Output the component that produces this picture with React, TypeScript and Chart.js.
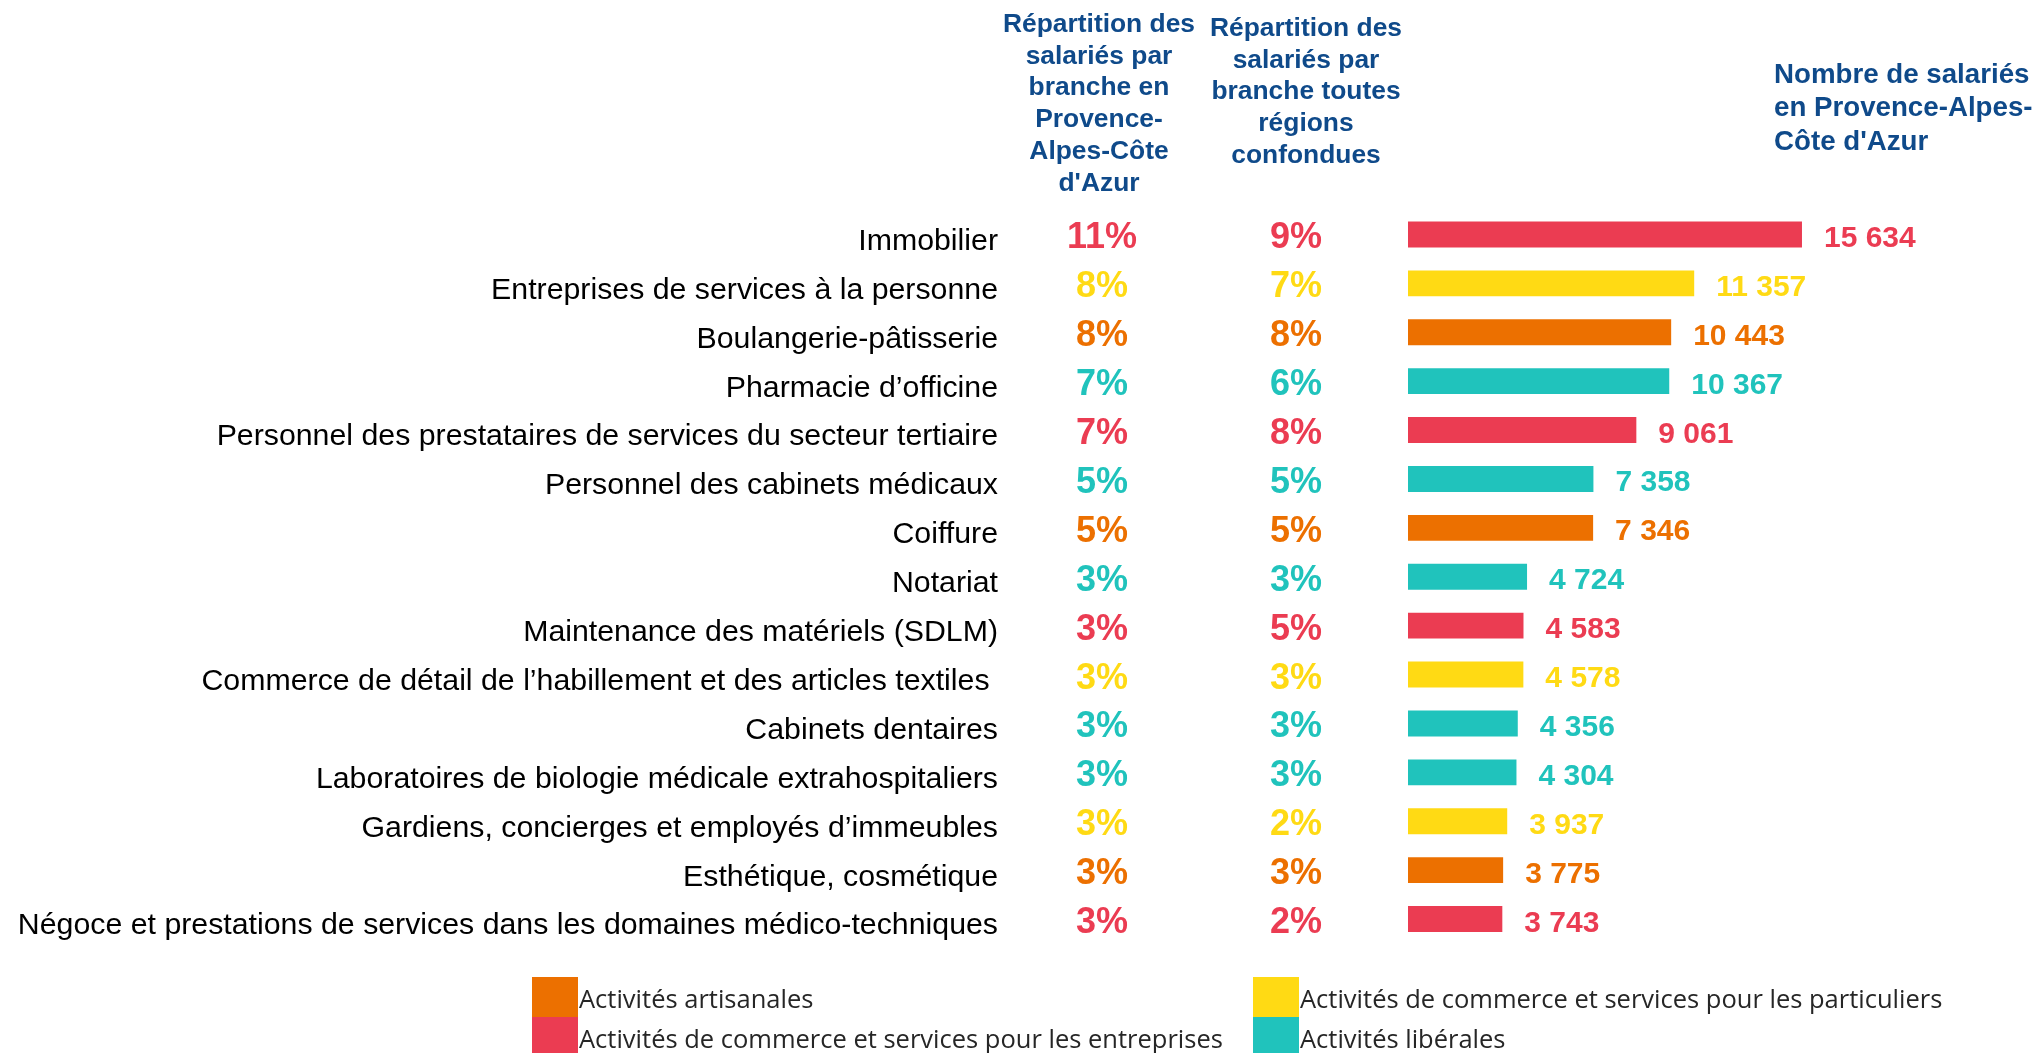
import React, { useEffect, useRef } from "react";
import { Chart, registerables } from "chart.js";

Chart.register(...registerables);

// ---------- DATA ----------
const categories = [
  "Immobilier",
  "Entreprises de services à la personne",
  "Boulangerie-pâtisserie",
  "Pharmacie d’officine",
  "Personnel des prestataires de services du secteur tertiaire",
  "Personnel des cabinets médicaux",
  "Coiffure",
  "Notariat",
  "Maintenance des matériels (SDLM)",
  "Commerce de détail de l’habillement et des articles textiles ",
  "Cabinets dentaires",
  "Laboratoires de biologie médicale extrahospitaliers",
  "Gardiens, concierges et employés d’immeubles",
  "Esthétique, cosmétique",
  "Négoce et prestations de services dans les domaines médico-techniques",
];

const employees = [15634, 11357, 10443, 10367, 9061, 7358, 7346, 4724, 4583, 4578, 4356, 4304, 3937, 3775, 3743];

const sharePaca = [11, 8, 8, 7, 7, 5, 5, 3, 3, 3, 3, 3, 3, 3, 3];

const shareAllRegions = [9, 7, 8, 6, 8, 5, 5, 3, 5, 3, 3, 3, 2, 3, 2];

// group of each branch: A = artisanales, P = particuliers, E = entreprises, L = libérales
const groups = ["E", "P", "A", "L", "E", "L", "A", "L", "E", "P", "L", "L", "P", "A", "E"];

const groupKeys = ["A", "P", "E", "L"];
const groupLabels = [
  "Activités artisanales",
  "Activités de commerce et services pour les particuliers",
  "Activités de commerce et services pour les entreprises",
  "Activités libérales",
];
const groupColors: Record<string, string> = {
  A: "#EC7000",
  P: "#FFDA14",
  E: "#EB3C52",
  L: "#20C3BC",
};

const headerPaca = ["Répartition des", "salariés par", "branche en", "Provence-", "Alpes-Côte", "d'Azur"];
const headerAll = ["Répartition des", "salariés par", "branche toutes", "régions", "confondues"];
const headerCount = ["Nombre de salariés", "en Provence-Alpes-", "Côte d'Azur"];

// ---------- STYLE ----------
const ARIAL = "'Liberation Sans', Arial, sans-serif";
const BLUE = "#0F4A8A";

const fmt = (n: number) => String(n).replace(/\B(?=(\d{3})+(?!\d))/g, " ");

const overlayPlugin = {
  id: "overlay",
  afterDraw(chart: any) {
    const ctx = chart.ctx as CanvasRenderingContext2D;
    const yScale = chart.scales.y;
    const xScale = chart.scales.x;
    ctx.save();

    // headers
    ctx.fillStyle = BLUE;
    ctx.textBaseline = "alphabetic";
    ctx.font = `bold 26.4px ${ARIAL}`;
    ctx.textAlign = "center";
    headerPaca.forEach((t, i) => ctx.fillText(t, 1099, 32 + i * 31.7));
    headerAll.forEach((t, i) => ctx.fillText(t, 1306, 36 + i * 31.7));
    ctx.font = `bold 27.7px ${ARIAL}`;
    ctx.textAlign = "left";
    headerCount.forEach((t, i) => ctx.fillText(t, 1774, 83 + i * 33.3));

    // per-row labels
    ctx.textBaseline = "alphabetic";
    categories.forEach((_, i) => {
      const y = yScale.getPixelForValue(i);
      const color = groupColors[groups[i]];
      ctx.fillStyle = color;
      ctx.font = `bold 36px ${ARIAL}`;
      ctx.textAlign = "center";
      ctx.fillText(`${sharePaca[i]}%`, 1102, y + 14);
      ctx.fillText(`${shareAllRegions[i]}%`, 1296, y + 14);
      ctx.font = `bold 30px ${ARIAL}`;
      ctx.textAlign = "left";
      ctx.fillText(fmt(employees[i]), xScale.getPixelForValue(employees[i]) + 22, y + 12.5);
    });

    // legend (2 x 2)
    const cols = [532, 1253];
    const rows = [977, 1017];
    groupKeys.forEach((k, idx) => {
      const cx = cols[idx % 2];
      const ry = rows[Math.floor(idx / 2)];
      ctx.fillStyle = groupColors[k];
      ctx.fillRect(cx, ry, 46, 40);
      ctx.fillStyle = "#262626";
      ctx.font = `25.5px 'Open Sans', sans-serif`;
      ctx.textAlign = "left";
      ctx.textBaseline = "alphabetic";
      ctx.fillText(groupLabels[idx], cx + 47, ry + 31);
    });

    ctx.restore();
  },
};

export default function App() {
  const ref = useRef<HTMLCanvasElement | null>(null);

  useEffect(() => {
    document.body.style.margin = "0";
    const canvas = ref.current!;
    const chart = new Chart(canvas, {
      type: "bar",
      data: {
        labels: categories,
        datasets: [
          {
            data: employees,
            backgroundColor: groups.map((g) => groupColors[g]),
            borderWidth: 0,
            categoryPercentage: 1,
            barPercentage: 0.53,
          },
        ],
      },
      options: {
        indexAxis: "y",
        responsive: false,
        animation: false,
        devicePixelRatio: 1,
        layout: { padding: { top: 210, bottom: 109.5, left: 0, right: 0 } },
        plugins: {
          legend: { display: false },
          tooltip: { enabled: false },
        },
        scales: {
          x: {
            display: false,
            min: 0,
            max: 25000,
          },
          y: {
            grid: { display: false, drawTicks: false },
            border: { display: false },
            afterFit: (scale: any) => {
              scale.width = 1408;
              scale.paddingTop = 0;
              scale.paddingBottom = 0;
            },
            ticks: {
              autoSkip: false,
              padding: 410,
              labelOffset: 7,
              color: "#000000",
              font: { family: ARIAL, size: 30.3 },
            },
          },
        },
      },
      plugins: [overlayPlugin],
    });
    return () => chart.destroy();
  }, []);

  return (
    <div style={{ position: "fixed", left: 0, top: 0, width: 2038, height: 1053, background: "#fff" }}>
      <canvas ref={ref} width={2038} height={1053} style={{ display: "block" }} />
    </div>
  );
}
